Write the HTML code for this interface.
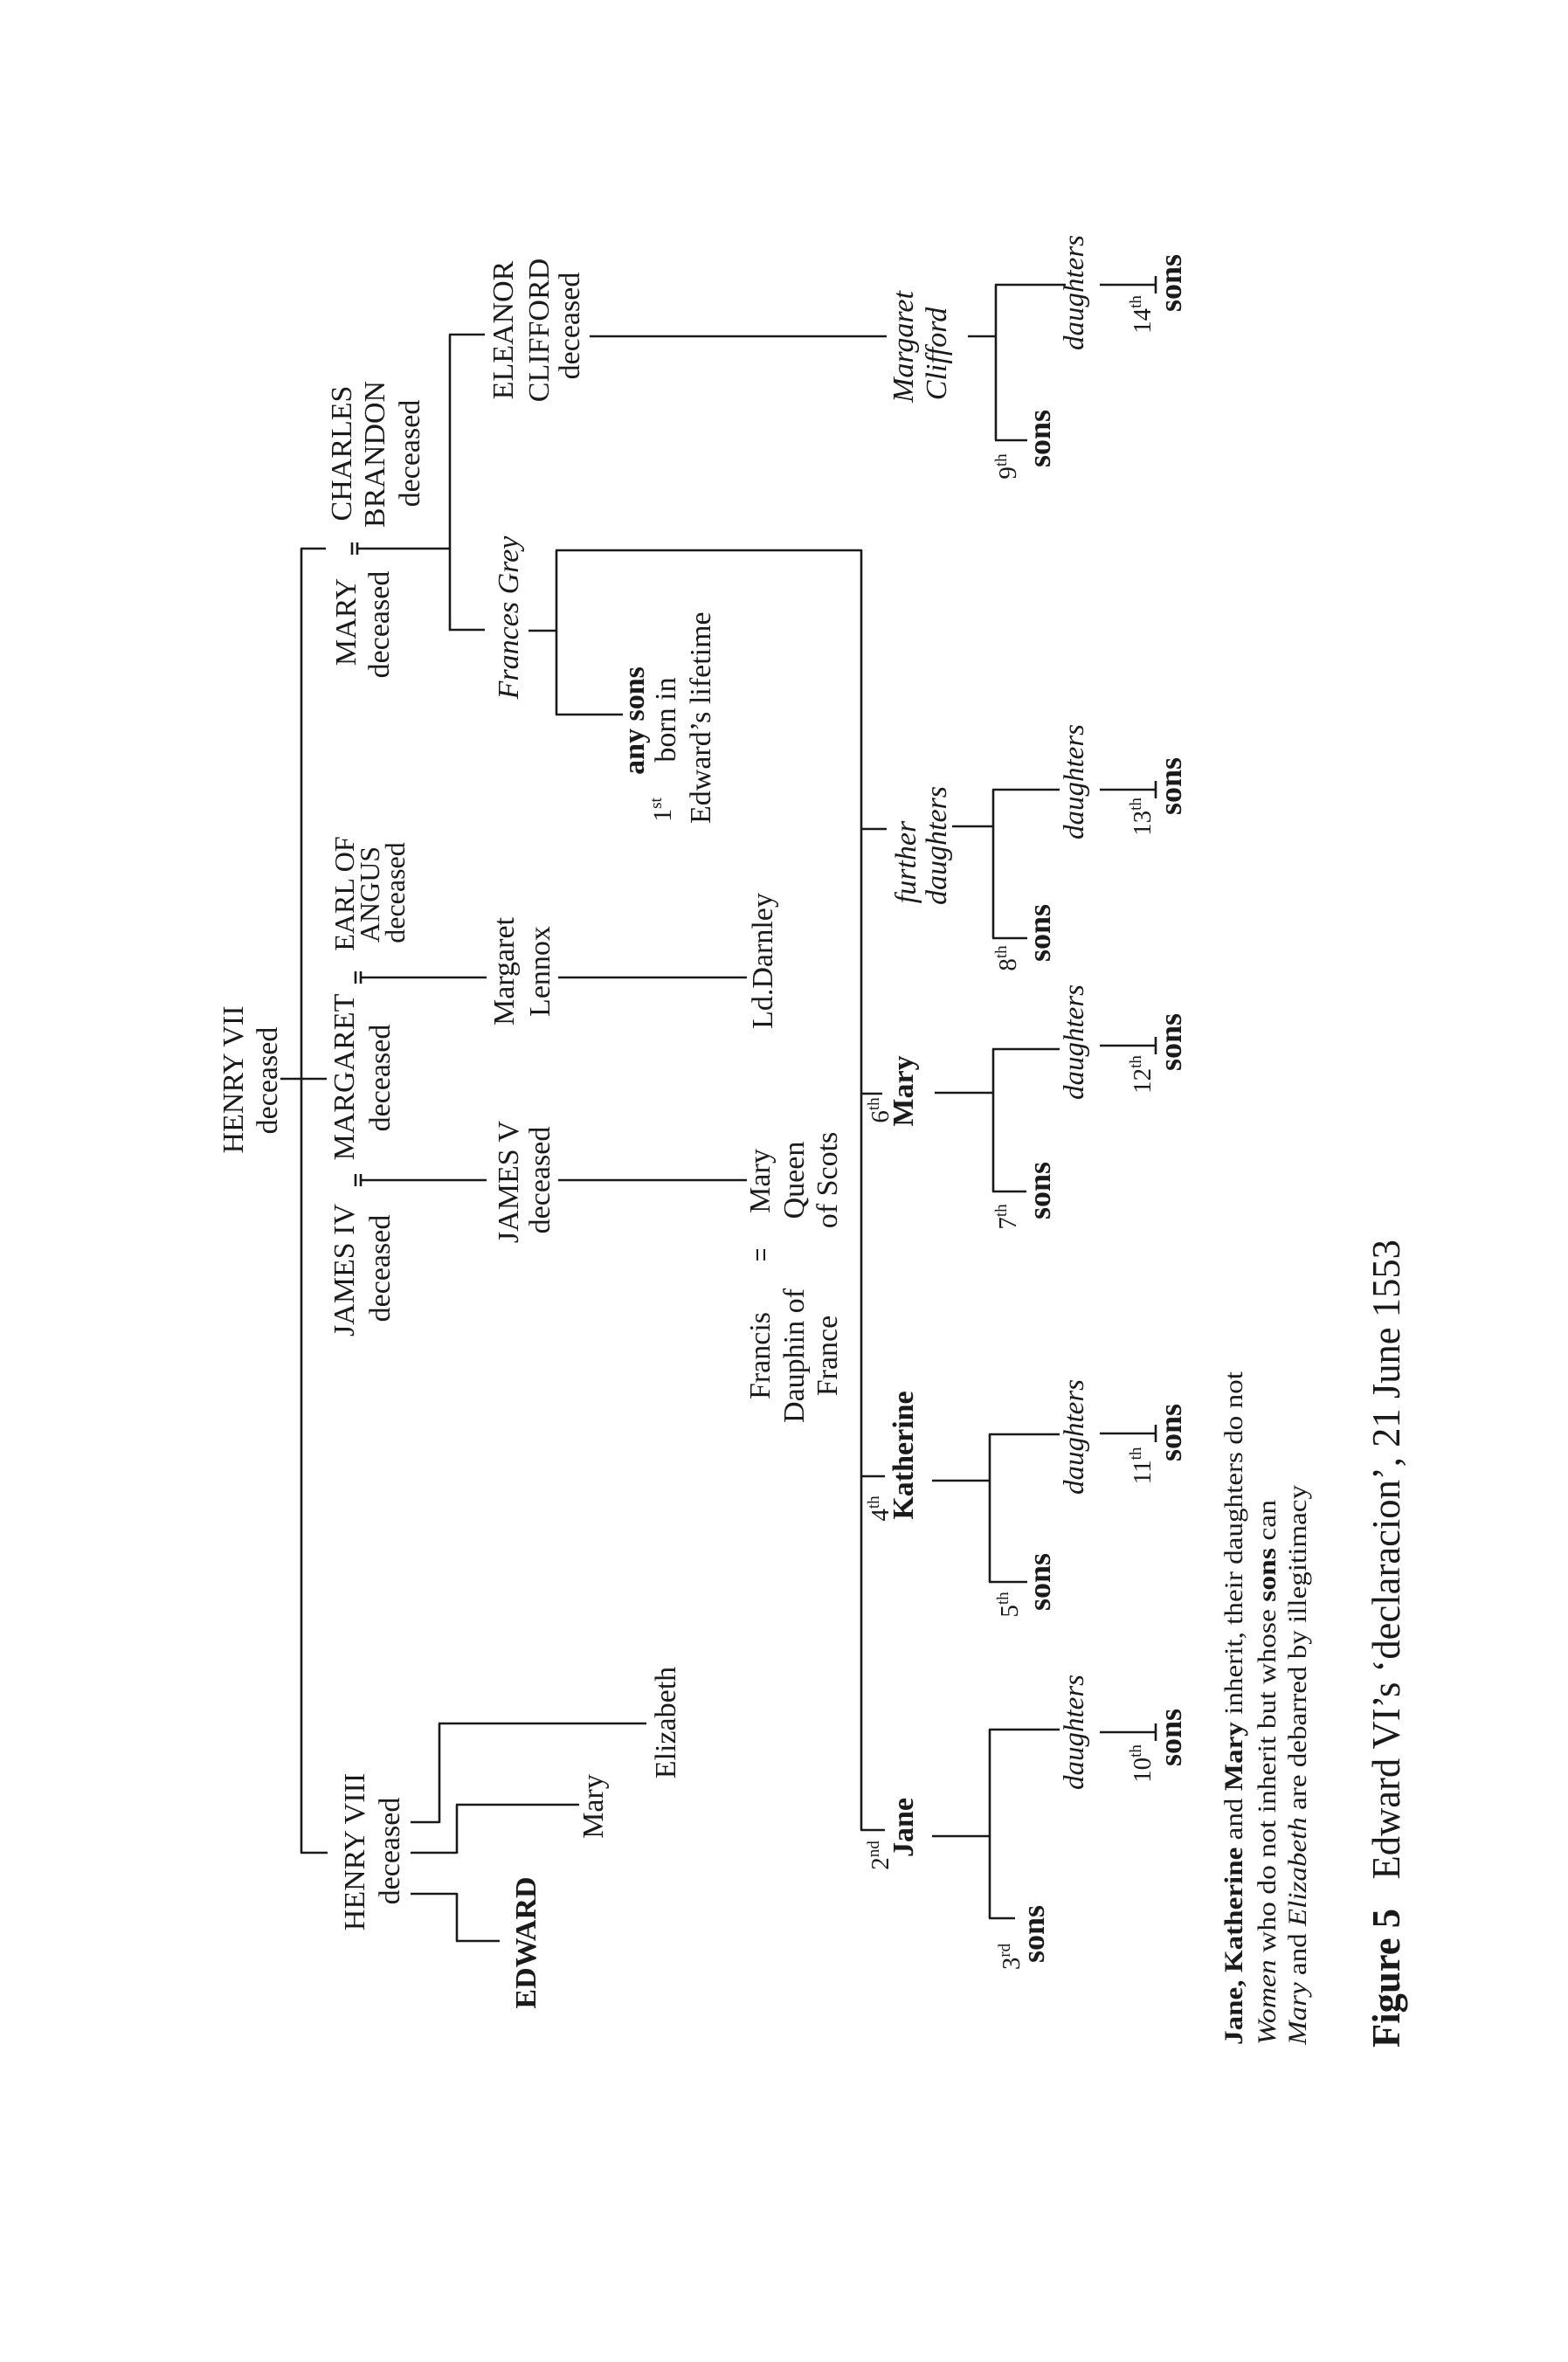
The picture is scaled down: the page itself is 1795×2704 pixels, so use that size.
<!DOCTYPE html>
<html><head><meta charset="utf-8"><style>
html,body{margin:0;padding:0;background:#fff;}
svg{display:block;}
text{font-family:"Liberation Serif",serif;font-size:34px;fill:#1a1a1a;}
.b{font-weight:bold;}
.i{font-style:italic;}
.s{font-size:29px;}
.so{font-weight:bold;font-size:36px;}
.d{font-style:italic;font-size:33px;}
.lg{font-size:30px;}
line{stroke:#1a1a1a;stroke-width:2.6;}
</style></head><body>
<svg width="1795" height="2704" viewBox="0 0 1795 2704" xmlns="http://www.w3.org/2000/svg">
<line x1="345" y1="628" x2="345" y2="2121"/>
<line x1="344" y1="628" x2="373" y2="628"/>
<line x1="344" y1="2121" x2="375" y2="2121"/>
<line x1="321" y1="1235" x2="374" y2="1235"/>
<line x1="403" y1="621" x2="403" y2="635"/><line x1="409" y1="621" x2="409" y2="635"/>
<line x1="409" y1="628" x2="515" y2="628"/>
<line x1="407" y1="1344" x2="407" y2="1358"/><line x1="413" y1="1344" x2="413" y2="1358"/>
<line x1="413" y1="1351" x2="557" y2="1351"/>
<line x1="407" y1="1112" x2="407" y2="1126"/><line x1="413" y1="1112" x2="413" y2="1126"/>
<line x1="413" y1="1119" x2="557" y2="1119"/>
<line x1="639" y1="1351" x2="855" y2="1351"/>
<line x1="639" y1="1119" x2="855" y2="1119"/>
<line x1="867" y1="1430" x2="867" y2="1443" style="stroke-width:2"/><line x1="875" y1="1430" x2="875" y2="1443" style="stroke-width:2"/>
<line x1="515" y1="383" x2="515" y2="722"/>
<line x1="514" y1="383" x2="555" y2="383"/>
<line x1="514" y1="721" x2="555" y2="721"/>
<line x1="675" y1="385" x2="1015" y2="385"/>
<line x1="605" y1="722" x2="637" y2="722"/>
<line x1="637" y1="630" x2="637" y2="818"/>
<line x1="636" y1="630" x2="986" y2="630"/>
<line x1="636" y1="818" x2="713" y2="818"/>
<line x1="986" y1="629" x2="986" y2="2095"/>
<line x1="986" y1="949" x2="1015" y2="949"/>
<line x1="986" y1="1252" x2="1010" y2="1252"/>
<line x1="986" y1="1690" x2="1013" y2="1690"/>
<line x1="985" y1="2095" x2="1013" y2="2095"/>
<line x1="470" y1="2086" x2="503" y2="2086"/><line x1="503" y1="2087" x2="503" y2="1973"/><line x1="502" y1="1973" x2="740" y2="1973"/>
<line x1="470" y1="2121" x2="523" y2="2121"/><line x1="523" y1="2122" x2="523" y2="2066"/><line x1="522" y1="2066" x2="663" y2="2066"/>
<line x1="470" y1="2168" x2="523" y2="2168"/><line x1="523" y1="2167" x2="523" y2="2222"/><line x1="522" y1="2222" x2="572" y2="2222"/>
<g>
<line x1="1108" y1="385" x2="1140" y2="385"/><line x1="1140" y1="326" x2="1140" y2="504"/><line x1="1139" y1="326" x2="1220" y2="326"/><line x1="1139" y1="504" x2="1176" y2="504"/>
<line x1="1259" y1="326" x2="1324" y2="326"/><line x1="1323" y1="316" x2="1323" y2="336"/>
<line x1="1090" y1="946" x2="1137" y2="946"/><line x1="1137" y1="904" x2="1137" y2="1074"/><line x1="1136" y1="904" x2="1213" y2="904"/><line x1="1136" y1="1074" x2="1176" y2="1074"/>
<line x1="1259" y1="904" x2="1324" y2="904"/><line x1="1323" y1="894" x2="1323" y2="914"/>
<line x1="1070" y1="1251" x2="1137" y2="1251"/><line x1="1137" y1="1201" x2="1137" y2="1364"/><line x1="1136" y1="1201" x2="1213" y2="1201"/><line x1="1136" y1="1364" x2="1175" y2="1364"/>
<line x1="1259" y1="1197" x2="1324" y2="1197"/><line x1="1323" y1="1187" x2="1323" y2="1207"/>
<line x1="1067" y1="1695" x2="1133" y2="1695"/><line x1="1133" y1="1642" x2="1133" y2="1811"/><line x1="1132" y1="1642" x2="1213" y2="1642"/><line x1="1132" y1="1811" x2="1176" y2="1811"/>
<line x1="1259" y1="1641" x2="1324" y2="1641"/><line x1="1323" y1="1631" x2="1323" y2="1651"/>
<line x1="1067" y1="2102" x2="1133" y2="2102"/><line x1="1133" y1="1980" x2="1133" y2="2196"/><line x1="1132" y1="1980" x2="1213" y2="1980"/><line x1="1132" y1="2196" x2="1162" y2="2196"/>
<line x1="1259" y1="1983" x2="1324" y2="1983"/><line x1="1323" y1="1973" x2="1323" y2="1993"/>
</g>
<g text-anchor="middle">
<text x="278" y="1236" transform="rotate(-90 278 1236)">HENRY VII</text>
<text x="317" y="1237" transform="rotate(-90 317 1237)">deceased</text>
<text x="405" y="1233" transform="rotate(-90 405 1233)">MARGARET</text>
<text x="446" y="1234" transform="rotate(-90 446 1234)">deceased</text>
<text x="405" y="1454" transform="rotate(-90 405 1454)">JAMES IV</text>
<text x="446" y="1452" transform="rotate(-90 446 1452)">deceased</text>
<text x="405" y="1023" transform="rotate(-90 405 1023)" style="font-size:32px">EARL OF</text>
<text x="434" y="1024" transform="rotate(-90 434 1024)" style="font-size:32px">ANGUS</text>
<text x="463" y="1022" transform="rotate(-90 463 1022)" style="font-size:32px">deceased</text>
<text x="407" y="712" transform="rotate(-90 407 712)">MARY</text>
<text x="445" y="715" transform="rotate(-90 445 715)">deceased</text>
<text x="402" y="519" transform="rotate(-90 402 519)">CHARLES</text>
<text x="440" y="520" transform="rotate(-90 440 520)">BRANDON</text>
<text x="480" y="519" transform="rotate(-90 480 519)">deceased</text>
<text x="417" y="2120" transform="rotate(-90 417 2120)">HENRY VIII</text>
<text x="457" y="2119" transform="rotate(-90 457 2119)">deceased</text>
<text x="613" y="2224" transform="rotate(-90 613 2224)" class="b">EDWARD</text>
<text x="690" y="2068" transform="rotate(-90 690 2068)">Mary</text>
<text x="773" y="1972" transform="rotate(-90 773 1972)">Elizabeth</text>
<text x="593" y="1353" transform="rotate(-90 593 1353)">JAMES V</text>
<text x="629" y="1351" transform="rotate(-90 629 1351)">deceased</text>
<text x="588" y="1112" transform="rotate(-90 588 1112)">Margaret</text>
<text x="629" y="1112" transform="rotate(-90 629 1112)">Lennox</text>
<text x="587" y="378" transform="rotate(-90 587 378)">ELEANOR</text>
<text x="628" y="378" transform="rotate(-90 628 378)">CLIFFORD</text>
<text x="663" y="373" transform="rotate(-90 663 373)">deceased</text>
<text x="593" y="707" transform="rotate(-90 593 707)" class="i">Frances Grey</text>
<text x="881" y="1352" transform="rotate(-90 881 1352)">Mary</text>
<text x="920" y="1351" transform="rotate(-90 920 1351)">Queen</text>
<text x="958" y="1351" transform="rotate(-90 958 1351)">of Scots</text>
<text x="881" y="1552" transform="rotate(-90 881 1552)">Francis</text>
<text x="920" y="1552" transform="rotate(-90 920 1552)">Dauphin of</text>
<text x="958" y="1552" transform="rotate(-90 958 1552)">France</text>
<text x="884" y="1100" transform="rotate(-90 884 1100)">Ld.Darnley</text>
<text x="737" y="825" transform="rotate(-90 737 825)" class="b">any sons</text>
<text x="768" y="927" transform="rotate(-90 768 927)" style="font-size:30px">1<tspan style="font-size:19px" dy="-11">st</tspan></text>
<text x="773" y="824" transform="rotate(-90 773 824)">born in</text>
<text x="1017" y="2124" transform="rotate(-90 1017 2124)" class="s">2<tspan style="font-size:19px" dy="-11">nd</tspan></text>
<text x="1045" y="2092" transform="rotate(-90 1045 2092)" class="b">Jane</text>
<text x="1017" y="1727" transform="rotate(-90 1017 1727)" class="s">4<tspan style="font-size:19px" dy="-11">th</tspan></text>
<text x="1045" y="1666" transform="rotate(-90 1045 1666)" class="b">Katherine</text>
<text x="1017" y="1271" transform="rotate(-90 1017 1271)" class="s">6<tspan style="font-size:19px" dy="-11">th</tspan></text>
<text x="1045" y="1249" transform="rotate(-90 1045 1249)" class="b">Mary</text>
<text x="1048" y="987" transform="rotate(-90 1048 987)" class="i">further</text>
<text x="1083" y="968" transform="rotate(-90 1083 968)" class="i">daughters</text>
<text x="1045" y="397" transform="rotate(-90 1045 397)" class="i">Margaret</text>
<text x="1083" y="405" transform="rotate(-90 1083 405)" class="i">Clifford</text>
<text x="1167" y="2240" transform="rotate(-90 1167 2240)" class="s">3<tspan style="font-size:19px" dy="-11">rd</tspan></text>
<text x="1195" y="2214" transform="rotate(-90 1195 2214)" class="so">sons</text>
<text x="1240" y="1983" transform="rotate(-90 1240 1983)" class="d">daughters</text>
<text x="1317" y="2019" transform="rotate(-90 1317 2019)" class="s">10<tspan style="font-size:19px" dy="-11">th</tspan></text>
<text x="1352" y="1989" transform="rotate(-90 1352 1989)" class="so">sons</text>
<text x="1165" y="1837" transform="rotate(-90 1165 1837)" class="s">5<tspan style="font-size:19px" dy="-11">th</tspan></text>
<text x="1202" y="1811" transform="rotate(-90 1202 1811)" class="so">sons</text>
<text x="1240" y="1645" transform="rotate(-90 1240 1645)" class="d">daughters</text>
<text x="1317" y="1678" transform="rotate(-90 1317 1678)" class="s">11<tspan style="font-size:19px" dy="-11">th</tspan></text>
<text x="1352" y="1640" transform="rotate(-90 1352 1640)" class="so">sons</text>
<text x="1163" y="1393" transform="rotate(-90 1163 1393)" class="s">7<tspan style="font-size:19px" dy="-11">th</tspan></text>
<text x="1202" y="1363" transform="rotate(-90 1202 1363)" class="so">sons</text>
<text x="1240" y="1193" transform="rotate(-90 1240 1193)" class="d">daughters</text>
<text x="1317" y="1230" transform="rotate(-90 1317 1230)" class="s">12<tspan style="font-size:19px" dy="-11">th</tspan></text>
<text x="1352" y="1193" transform="rotate(-90 1352 1193)" class="so">sons</text>
<text x="1163" y="1097" transform="rotate(-90 1163 1097)" class="s">8<tspan style="font-size:19px" dy="-11">th</tspan></text>
<text x="1202" y="1068" transform="rotate(-90 1202 1068)" class="so">sons</text>
<text x="1240" y="895" transform="rotate(-90 1240 895)" class="d">daughters</text>
<text x="1317" y="935" transform="rotate(-90 1317 935)" class="s">13<tspan style="font-size:19px" dy="-11">th</tspan></text>
<text x="1352" y="900" transform="rotate(-90 1352 900)" class="so">sons</text>
<text x="1163" y="534" transform="rotate(-90 1163 534)" class="s">9<tspan style="font-size:19px" dy="-11">th</tspan></text>
<text x="1202" y="502" transform="rotate(-90 1202 502)" class="so">sons</text>
<text x="1240" y="335" transform="rotate(-90 1240 335)" class="d">daughters</text>
<text x="1317" y="360" transform="rotate(-90 1317 360)" class="s">14<tspan style="font-size:19px" dy="-11">th</tspan></text>
<text x="1352" y="324" transform="rotate(-90 1352 324)" class="so">sons</text>
</g>
<g text-anchor="start">
<text x="813" y="943" transform="rotate(-90 813 943)">Edward’s lifetime</text>
<text x="1422" y="2341" transform="rotate(-90 1422 2341)" class="lg" textLength="771" lengthAdjust="spacingAndGlyphs"><tspan class="b">Jane, Katherine</tspan> and <tspan class="b">Mary</tspan> inherit, their daughters do not</text>
<text x="1460" y="2341" transform="rotate(-90 1460 2341)" class="lg" textLength="624" lengthAdjust="spacingAndGlyphs"><tspan class="i">Women</tspan> who do not inherit but whose <tspan class="b">sons</tspan> can</text>
<text x="1495" y="2341" transform="rotate(-90 1495 2341)" class="lg" textLength="641" lengthAdjust="spacingAndGlyphs"><tspan class="i">Mary</tspan> and <tspan class="i">Elizabeth</tspan> are debarred by illegitimacy</text>
<text x="1602" y="2344" transform="rotate(-90 1602 2344)" style="font-size:46px" textLength="925" lengthAdjust="spacingAndGlyphs"><tspan class="b">Figure 5</tspan>&#160;&#160;&#160;Edward VI’s ‘declaracion’, 21 June 1553</text>
</g>
</svg>
</body></html>
